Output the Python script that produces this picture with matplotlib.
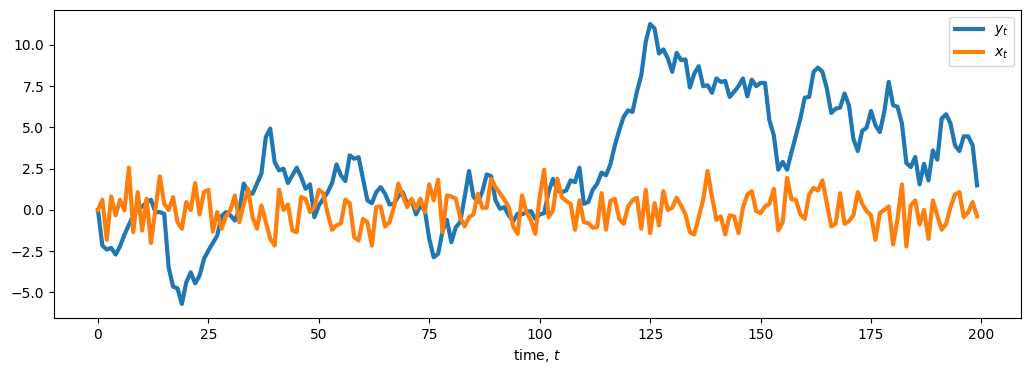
import numpy as np
import matplotlib
matplotlib.use("Agg")
import matplotlib.pyplot as plt

y_t = [
    0.0, -2.16, -2.4, -2.3, -2.7, -2.2, -1.5, -0.9, -0.35, 0.1,
    0.2, 0.45, 0.62, -0.13, -0.13, -0.23, -3.47, -4.65, -4.75, -5.7,
    -4.38, -3.78, -4.45, -3.98, -2.97, -2.46, -2.0, -1.55, -0.37, -0.13,
    -0.33, -0.64, 0.0, 1.6, 1.08, 0.98, 1.6, 2.2, 4.42, 4.93,
    2.9, 2.4, 2.5, 1.63, 2.1, 2.56, 2.0, 1.28, 1.55, -0.44,
    0.27, 0.68, 1.08, 1.63, 2.76, 2.1, 1.75, 3.31, 3.1, 3.2,
    1.88, 0.58, 0.41, 1.08, 1.38, 0.98, 0.33, 0.37, 0.82, 1.08,
    0.37, 0.58, -0.27, 0.27, -0.03, -1.75, -2.87, -2.66, -1.3, -0.6,
    -1.95, -1.05, -0.74, 0.78, 2.36, 0.8, 0.5, 1.1, 2.15, 2.05,
    0.58, 0.07, 0.17, -0.33, -0.68, -0.23, -0.27, -0.13, -0.07, -0.54,
    -0.27, -0.19, 1.08, 1.88, 1.18, 1.08, 1.18, 1.79, 1.69, 2.56,
    0.37, 0.48, 1.22, 1.59, 2.26, 2.1, 2.76, 3.9, 4.83, 5.64,
    6.04, 5.94, 7.16, 8.17, 10.19, 11.27, 11.0, 9.48, 9.73, 9.18,
    8.37, 9.52, 9.08, 9.12, 7.42, 8.27, 8.71, 7.5, 7.56, 7.1,
    7.97, 7.76, 7.82, 6.85, 7.16, 7.5, 7.97, 6.89, 7.9, 7.5,
    7.7, 7.7, 5.43, 4.52, 2.44, 2.91, 2.44, 3.5, 4.52, 5.54,
    6.81, 6.85, 8.37, 8.63, 8.37, 7.36, 5.88, 6.14, 6.2, 7.06,
    6.35, 4.32, 3.57, 4.79, 4.99, 6.0, 5.13, 4.72, 5.94, 7.76,
    6.35, 6.25, 5.23, 2.84, 2.6, 3.21, 1.55, 2.8, 1.79, 3.61,
    3.05, 5.54, 5.8, 5.23, 3.92, 3.57, 4.46, 4.46, 3.92, 1.49,
]

x_t = [
    0.0, 0.62, -1.81, 0.82, -0.33, 0.62, -0.03, 2.56, -1.35, 1.08,
    -1.25, 0.68, -2.0, 0.0, 2.04, 0.37, 0.0, 0.78, -0.74, -1.14,
    0.48, 0.0, 1.63, -0.27, 1.08, 1.22, -1.31, -0.13, -1.14, -0.39,
    0.0, 0.88, -0.74, 0.37, 1.28, -0.44, -1.14, 0.27, -0.74, -1.75,
    -2.16, 1.22, 0.0, 0.33, -1.24, -1.35, 0.78, 0.68, -0.13, 0.17,
    1.22, 1.02, -0.23, -1.2, -0.94, -0.8, 0.62, 0.41, -1.65, -1.85,
    -0.54, -0.74, -2.16, 0.17, 0.21, -1.0, -0.74, 0.17, 1.59, 0.88,
    0.17, 0.68, 0.07, 0.68, -0.13, 1.55, 0.58, 1.83, -1.35, 0.88,
    0.82, 0.68, -0.44, -1.0, -0.44, -0.27, 0.98, 0.13, 0.13, 1.89,
    1.38, 1.02, 0.62, 0.17, -1.0, -1.45, 0.88, -0.13, -0.64, -1.45,
    0.78, 2.44, -0.44, -0.03, 1.89, 0.78, 0.54, 0.37, -1.2, 0.58,
    -0.74, -0.8, -1.08, -1.04, 1.02, -1.2, 0.54, 0.68, -0.54, -0.84,
    0.21, 0.58, 0.74, -1.14, 1.22, -1.41, 0.41, -0.94, 1.14, 0.0,
    0.13, 0.74, 0.27, -0.27, -1.35, -1.49, -0.44, 0.62, 2.36, 0.78,
    -0.6, -0.39, -1.49, -0.33, -0.39, -1.41, 0.13, 0.94, 1.14, -0.07,
    -0.19, 0.21, 0.37, 1.28, -1.24, -0.74, 1.95, 0.65, 0.62, -0.27,
    -0.54, 0.94, 1.34, 1.18, 1.79, 0.41, -1.0, -0.84, 1.02, -0.84,
    -0.68, -0.33, 1.08, 0.37, -0.07, -0.33, -1.81, -0.19, 0.0, 0.21,
    -2.1, -0.54, 1.55, -2.22, 0.27, 0.58, -0.88, 0.0, -1.75, 0.58,
    -0.33, -1.2, -0.84, 0.17, 0.94, 1.08, -0.44, -0.13, 0.48, -0.39,
]

t = np.arange(len(y_t))

fig = plt.figure(figsize=(10.31, 3.74), dpi=100)
ax = fig.add_axes([54/1031, 1 - 318/374, (1021-54)/1031, (318-10)/374])
ax.plot(t, y_t, lw=3, color="#1f77b4", label="$y_t$")
ax.plot(t, x_t, lw=3, color="#ff7f0e", label="$x_t$")
ax.set_xlabel("time, $t$")
ax.legend(loc="upper right")
fig.savefig("out.png", dpi=100)
